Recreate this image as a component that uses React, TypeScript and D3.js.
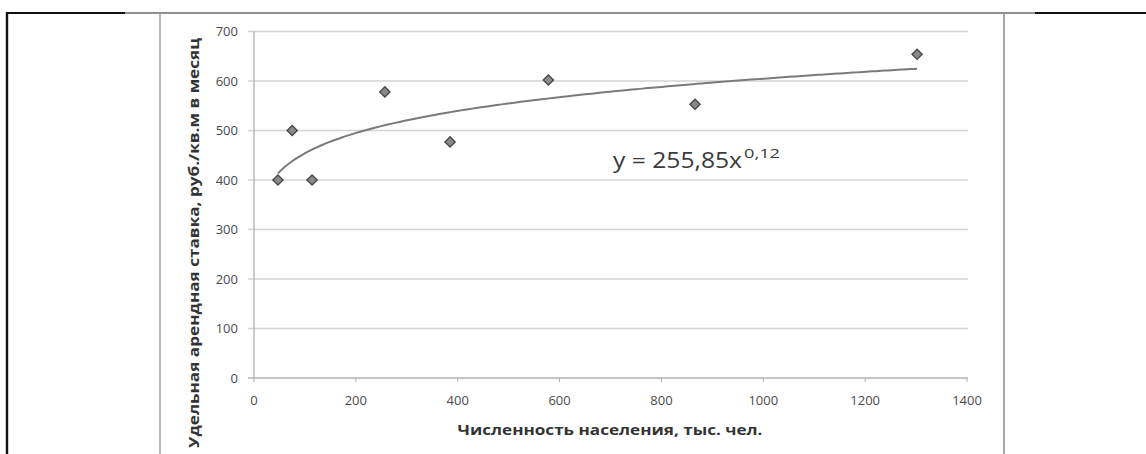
import React from 'react';
import * as d3 from 'd3';

// население, тыс. чел. / ставка, руб./кв.м в месяц
const population = [47, 75, 114, 257, 385, 578, 866, 1302];
const rent = [400, 500, 400, 578, 477, 602, 553, 654];
const xTicks = [0, 200, 400, 600, 800, 1000, 1200, 1400];
const yTicks = [0, 100, 200, 300, 400, 500, 600, 700];

const xTitle = 'Численность населения, тыс. чел.';
const yTitle = 'Удельная арендная ставка, руб./кв.м в месяц';

const W = 1146;
const H = 454;

// power trendline y = a * x^b, least squares in log-log (as Excel does)
function powerFit(xs: number[], ys: number[]) {
  const lx = xs.map(Math.log);
  const ly = ys.map(Math.log);
  const mx = d3.mean(lx) as number;
  const my = d3.mean(ly) as number;
  const sxy = d3.sum(lx, (v, i) => (v - mx) * (ly[i] - my));
  const sxx = d3.sum(lx, v => (v - mx) ** 2);
  const b = sxy / sxx;
  const a = Math.exp(my - b * mx);
  return { a, b };
}

export default function App() {
  const x = d3.scaleLinear().domain([0, 1400]).range([254, 967]);
  const y = d3.scaleLinear().domain([0, 700]).range([378, 31.5]);

  const { a, b } = powerFit(population, rent);
  const [x0, x1] = d3.extent(population) as [number, number];
  const trendX = d3.range(0, 101).map(i => x0 + ((x1 - x0) * i) / 100);
  const trendPath = d3
    .line<number>()
    .x(d => x(d))
    .y(d => y(a * Math.pow(d, b)))
    .curve(d3.curveMonotoneX)(trendX) as string;

  const marker = d3.symbol().type(d3.symbolSquare).size(52)() as string;

  const textColor = '#4a4a4a';
  const font = 'Open Sans, Liberation Sans, sans-serif';

  return (
    <svg
      width={W}
      height={H}
      style={{ position: 'absolute', left: 0, top: 0, background: '#fff' }}
      fontFamily={font}
    >
      {/* page/table lines of the scan */}
      <line x1={7} x2={125} y1={13} y2={13} stroke="#111" strokeWidth={2.2} />
      <line x1={125} x2={1035} y1={13} y2={13} stroke="#222" strokeWidth={1.2} />
      <line x1={1035} x2={W} y1={13} y2={13} stroke="#111" strokeWidth={2.2} />
      <line x1={7} x2={7} y1={12} y2={H} stroke="#111" strokeWidth={2.4} />
      <line x1={160} x2={160} y1={14} y2={H} stroke="#b8b8b8" strokeWidth={2} />
      <line x1={1004} x2={1004} y1={14} y2={H} stroke="#a8a8a8" strokeWidth={2} />

      {/* gridlines */}
      {yTicks.map(t => (
        <line
          key={'g' + t}
          x1={248}
          x2={968}
          y1={y(t)}
          y2={y(t)}
          stroke={t === 0 ? '#b0b0b0' : '#d4d4d4'}
          strokeWidth={1.3}
        />
      ))}
      {/* y axis */}
      <line x1={254} x2={254} y1={y(700)} y2={y(0)} stroke="#b0b0b0" strokeWidth={1.3} />
      {xTicks.map(t => (
        <line key={'xt' + t} x1={x(t)} x2={x(t)} y1={y(0)} y2={y(0) + 4} stroke="#b0b0b0" />
      ))}

      {/* tick labels */}
      {yTicks.map(t => (
        <text
          key={'yl' + t}
          x={238}
          y={y(t)}
          dy="0.35em"
          textAnchor="end"
          fontSize={13}
          fill={textColor}
        >
          {t}
        </text>
      ))}
      {xTicks.map(t => (
        <text
          key={'xl' + t}
          x={x(t)}
          y={400}
          dy="0.35em"
          textAnchor="middle"
          fontSize={13}
          fill={textColor}
        >
          {t}
        </text>
      ))}

      {/* axis titles */}
      <text
        x={610}
        y={430}
        dy="0.35em"
        textAnchor="middle"
        fontSize={14}
        fontWeight="bold"
        fill="#333"
        textLength={305}
        lengthAdjust="spacingAndGlyphs"
      >
        {xTitle}
      </text>
      <text
        transform="translate(194,243) rotate(-90)"
        dy="0.35em"
        textAnchor="middle"
        fontSize={14}
        fontWeight="bold"
        fill="#333"
        textLength={410}
        lengthAdjust="spacingAndGlyphs"
      >
        {yTitle}
      </text>

      {/* trendline */}
      <path d={trendPath} fill="none" stroke="#7a7a7a" strokeWidth={2} />

      {/* points */}
      {population.map((p, i) => (
        <path
          key={'p' + i}
          d={marker}
          transform={`translate(${x(p)},${y(rent[i])}) rotate(45)`}
          fill="#8a8a8a"
          stroke="#4a4a4a"
          strokeWidth={1.4}
        />
      ))}

      {/* equation */}
      <text
        x={613}
        y={168}
        fontSize={21}
        fill="#3a3a3a"
        textLength={129}
        lengthAdjust="spacingAndGlyphs"
      >
        y = 255,85x
      </text>
      <text
        x={744}
        y={158}
        fontSize={13}
        fill="#3a3a3a"
        textLength={36}
        lengthAdjust="spacingAndGlyphs"
      >
        0,12
      </text>
    </svg>
  );
}
